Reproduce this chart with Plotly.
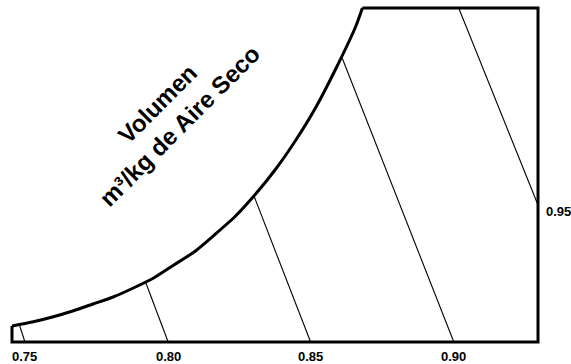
import plotly.graph_objects as go

# Saturation curve (dry-bulb °C, humidity ratio g/kg)
sat_t = [-10, -7.5, -5, -2.5, 0, 2.5, 5, 7.5, 10, 12.5, 15, 17.5, 20, 22.5, 25, 27.5, 30, 32.5, 33.3]
sat_w = [1.6, 2.0, 2.5, 3.1, 3.8, 4.5, 5.4, 6.4, 7.7, 9.0, 10.7, 12.5, 14.7, 17.2, 20.1, 23.4, 27.3, 31.6, 33.4]

# Chart frame limits
t_min, t_max = -10, 55
w_max = 33.4

# Specific volume lines (m3/kg dry air)
vol_labels = ["0.75", "0.80", "0.85", "0.90", "0.95"]
vol_t_low = [-8.4, 9.3, 26.9, 44.6, 55]
vol_w_low = [0, 0, 0, 0, 13.7]
vol_t_high = [-9.1, 6.5, 19.9, 30.8, 45.2]
vol_w_high = [1.75, 6.0, 14.6, 28.4, 33.4]

title_text = "Volumen<br>m³/kg de Aire Seco"
title_t, title_w = 9.3, 22.7

fig = go.Figure()

# volume lines
for i in range(len(vol_labels)):
    fig.add_trace(go.Scatter(
        x=[vol_t_low[i], vol_t_high[i]], y=[vol_w_low[i], vol_w_high[i]],
        mode="lines", line=dict(color="black", width=1.1),
        hoverinfo="skip", showlegend=False))

# frame
fig.add_trace(go.Scatter(
    x=[sat_t[0], t_min, t_max, t_max, sat_t[-1]],
    y=[sat_w[0], 0, 0, w_max, w_max],
    mode="lines", line=dict(color="black", width=3),
    hoverinfo="skip", showlegend=False))

# saturation curve
fig.add_trace(go.Scatter(
    x=sat_t, y=sat_w, mode="lines",
    line=dict(color="black", width=3, shape="spline", smoothing=0.6),
    hoverinfo="skip", showlegend=False))

lab_font = dict(family="Liberation Sans, Arial, sans-serif", size=13, color="black")
for i, lab in enumerate(vol_labels):
    if vol_w_low[i] == 0:
        fig.add_annotation(x=vol_t_low[i], y=0, text=f"<b>{lab}</b>", showarrow=False,
                           xanchor="center", yanchor="middle", yshift=-14, font=lab_font)
    else:
        fig.add_annotation(x=vol_t_low[i], y=vol_w_low[i], text=f"<b>{lab}</b>", showarrow=False,
                           xanchor="left", yanchor="middle", xshift=6, yshift=-6, font=lab_font)

fig.add_annotation(x=title_t, y=title_w, text=f"<b>{title_text}</b>", showarrow=False,
                   textangle=-45, xanchor="center", yanchor="middle",
                   font=dict(family="Liberation Sans, Arial, sans-serif", size=24, color="black"))

fig.update_layout(
    width=571, height=364,
    margin=dict(l=9, r=30, t=5, b=19),
    paper_bgcolor="white", plot_bgcolor="white",
    xaxis=dict(range=[t_min - 0.37, t_max + 0.37], visible=False, fixedrange=True),
    yaxis=dict(range=[-0.3, w_max + 0.3], visible=False, fixedrange=True),
    showlegend=False,
)

fig.write_html("out.html")
